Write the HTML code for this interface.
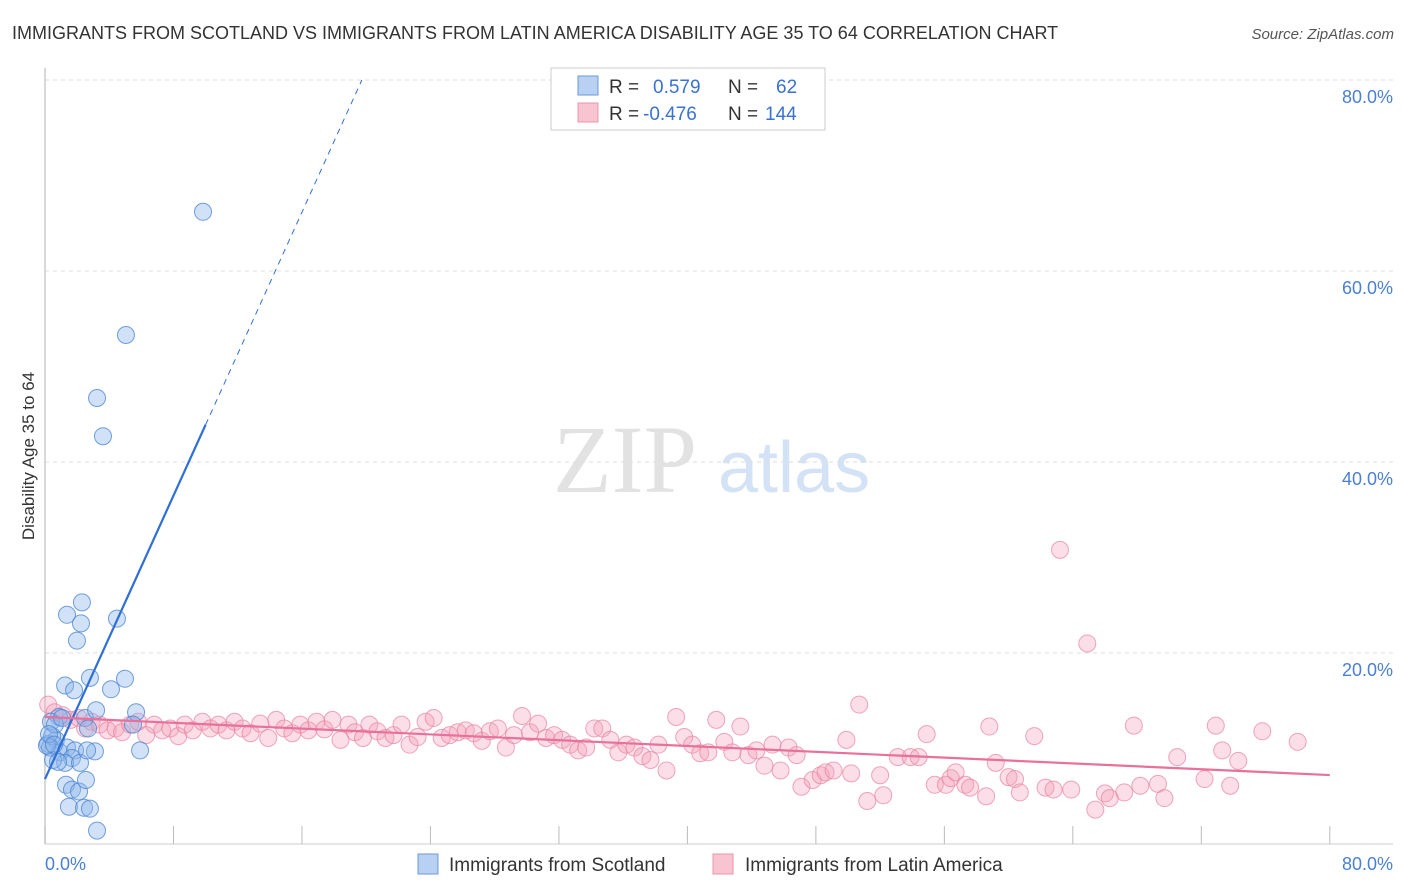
<!DOCTYPE html>
<html><head><meta charset="utf-8"><style>
body{margin:0;background:#fff;font-family:"Liberation Sans",sans-serif}
svg{display:block}
</style></head><body>
<svg id="chart" width="1406" height="892" xmlns="http://www.w3.org/2000/svg" font-family="Liberation Sans, sans-serif">
<text x="12" y="39" font-size="18" fill="#333">IMMIGRANTS FROM SCOTLAND VS IMMIGRANTS FROM LATIN AMERICA DISABILITY AGE 35 TO 64 CORRELATION CHART</text>
<text x="1394" y="39" font-size="15" fill="#555" text-anchor="end" font-style="italic">Source: ZipAtlas.com</text>
<g>
<text x="553" y="492" font-size="96" font-family="Liberation Serif, serif" fill="#e2e2e2">ZIP</text>
<text x="718" y="492" font-size="72" fill="#d3e2f4">atlas</text>
</g>
<g id="grid"></g>
<line x1="45" y1="68" x2="45" y2="844" stroke="#ccc" stroke-width="1.5"/>
<line x1="45" y1="844" x2="1393" y2="844" stroke="#ccc" stroke-width="1"/>
<g id="ticks"></g>
<text transform="translate(34,456) rotate(-90)" font-size="17" fill="#333" text-anchor="middle">Disability Age 35 to 64</text>
<text x="45" y="870" font-size="18" fill="#4a7fd4">0.0%</text>
<text x="1393" y="870" font-size="18" fill="#4a7fd4" text-anchor="end">80.0%</text>
<g id="pink"></g>
<g id="blue"></g>
<g id="lines"></g>
<g>
<rect x="551" y="68" width="274" height="62" fill="#fff" stroke="#ccc"/>
<rect x="578" y="76" width="20" height="19" fill="#b8d0f2" stroke="#6a9ad8"/>
<rect x="578" y="103" width="20" height="19" fill="#f8c4d2" stroke="#e896ae"/>
<text x="609" y="93" font-size="19" fill="#333">R =</text>
<text x="653" y="93" font-size="19" fill="#3a72d0">0.579</text>
<text x="728" y="93" font-size="19" fill="#333">N =</text>
<text x="776" y="93" font-size="19" fill="#3a72d0">62</text>
<text x="609" y="120" font-size="19" fill="#333">R =</text>
<text x="643" y="120" font-size="19" fill="#3a72d0">-0.476</text>
<text x="728" y="120" font-size="19" fill="#333">N =</text>
<text x="765" y="120" font-size="19" fill="#3a72d0">144</text>
</g>
<g>
<rect x="418" y="854" width="20" height="20" fill="#b8d0f2" stroke="#6a9ad8"/>
<text x="449" y="871" font-size="19" fill="#333">Immigrants from Scotland</text>
<rect x="713" y="854" width="20" height="20" fill="#f8c4d2" stroke="#e896ae"/>
<text x="745" y="871" font-size="19" fill="#333">Immigrants from Latin America</text>
</g>
</svg>
<script>
const yTicks=[20,40,60,80];
const xTickVals=[0,8,16,24,32,40,48,56,64,72,80];
const blueX=[9.84,5.04,3.24,3.61,1.37,2.30,2.24,1.99,4.48,1.25,1.81,2.80,4.98,4.11,0.87,2.49,3.18,5.67,0.68,0.19,0.44,0.31,0.93,1.37,1.87,1.68,1.25,2.18,3.11,2.62,5.92,1.31,1.49,1.68,2.12,2.43,2.80,3.24,2.55,0.37,0.62,1.06,5.48,2.68,0.50,0.81,0.12,0.25,0.56];
const blueY=[66.2,53.3,46.7,42.7,24.0,25.3,23.1,21.3,23.6,16.6,16.1,17.4,17.3,16.2,13.3,13.2,14.0,13.8,10.9,10.5,11.3,10.1,9.6,10.1,9.8,9.0,8.5,8.5,9.7,9.8,9.8,6.2,3.9,5.7,5.5,3.8,3.7,1.4,6.7,12.8,12.5,13.2,12.5,12.1,8.8,8.6,10.3,11.5,10.4];
const pinkX=[0.2,0.6,1.1,1.6,2.1,2.5,2.9,3.4,3.9,4.4,4.8,5.3,5.8,6.3,6.8,7.3,7.8,8.3,8.7,9.2,9.8,10.3,10.8,11.3,11.8,12.3,12.8,13.4,13.9,14.4,14.9,15.4,15.9,16.4,16.9,17.4,17.9,18.4,18.9,19.3,19.8,20.2,20.7,21.2,21.7,22.2,22.7,23.2,23.7,24.2,24.7,25.2,25.7,26.2,26.7,27.2,27.7,28.2,28.7,29.2,29.7,30.2,30.7,31.2,31.7,32.2,32.7,33.2,33.7,34.2,34.7,35.2,35.7,36.2,36.7,37.2,37.7,38.2,38.7,39.3,39.8,40.3,40.8,41.3,41.8,42.3,42.8,43.3,43.8,44.3,44.8,45.3,45.8,46.3,46.8,47.1,47.8,48.3,48.6,49.1,49.9,50.2,50.7,51.2,52.0,52.2,53.1,53.9,54.4,54.9,55.4,56.1,56.4,56.7,57.3,57.6,58.6,58.8,59.2,60.0,60.4,60.7,61.6,62.3,62.8,63.2,63.9,64.9,65.4,66.0,66.3,67.2,67.8,68.2,69.3,69.7,70.5,72.2,72.9,73.3,73.8,74.3,75.8,78.0];
const pinkY=[14.6,13.8,13.5,13.0,13.2,12.1,12.8,12.5,11.9,12.1,11.7,12.5,12.8,11.4,12.5,11.9,12.1,11.3,12.5,11.9,12.8,12.1,12.5,11.9,12.8,12.1,11.6,12.6,11.1,13.0,12.1,11.6,12.5,11.9,12.8,12.0,13.0,10.9,12.5,11.7,11.1,12.5,11.8,11.1,11.4,12.5,10.4,11.2,12.8,13.2,11.1,11.4,11.7,11.9,11.6,10.8,11.8,12.1,10.1,11.4,13.4,11.7,12.6,11.1,11.4,10.9,10.4,9.8,10.1,12.1,12.1,10.9,9.6,10.4,10.1,9.2,8.8,10.4,7.7,13.3,11.2,10.4,9.5,9.6,13.0,10.7,9.6,12.3,9.3,9.8,8.2,10.4,7.7,10.1,9.3,6.0,6.7,7.2,7.5,7.7,10.9,7.4,14.6,4.5,7.2,5.1,9.1,9.1,9.1,11.5,6.2,6.2,6.9,7.5,6.2,5.9,5.0,12.3,8.5,7.0,6.8,5.4,11.3,5.9,5.7,30.8,5.7,21.0,3.6,5.3,4.8,5.4,12.4,6.1,6.3,4.8,9.1,6.8,12.4,9.8,6.1,8.7,11.8,10.7];
const blueFit=[6.8,3.71];   // intercept, slope
const pinkFit=[13.3,-0.076];
const NS='http://www.w3.org/2000/svg';
const X=v=>45+v*16.06;
const Y=v=>844-v*9.55;
function mk(tag,attrs,parent){const e=document.createElementNS(NS,tag);for(const k in attrs)e.setAttribute(k,attrs[k]);document.getElementById(parent).appendChild(e);return e;}
yTicks.forEach(t=>{
  const g=mk('line',{x1:45,x2:1393,y1:Y(t),y2:Y(t),stroke:'#ddd','stroke-dasharray':'4,4'},'grid');
  
  
  const l=mk('text',{x:1393,y:Y(t)+23,'font-size':18,fill:'#4a7fd4','text-anchor':'end'},'grid');
  l.textContent=t.toFixed(1)+'%';
  
  
});
xTickVals.forEach(t=>{
  const e=mk('line',{x1:X(t),x2:X(t),y1:826,y2:844,stroke:'#bbb'},'ticks');
  
  
});
pinkX.forEach((x,i)=>{
  const c=mk('circle',{cx:X(x),cy:Y(pinkY[i]),r:8.5,fill:'rgba(244,160,186,0.35)',stroke:'rgba(232,130,160,0.7)','stroke-width':1},'pink');
  
  
});
blueX.forEach((x,i)=>{
  const c=mk('circle',{cx:X(x),cy:Y(blueY[i]),r:8.5,fill:'rgba(140,180,235,0.4)',stroke:'rgba(70,130,210,0.75)','stroke-width':1},'blue');
  
  
});
const bEnd=10.0, bDash=(80-blueFit[0])/blueFit[1];
let e=mk('line',{x1:X(0),y1:Y(blueFit[0]),x2:X(bEnd),y2:Y(blueFit[0]+blueFit[1]*bEnd),stroke:'#2f6fd6','stroke-width':2.2},'lines');


e=mk('line',{x1:X(bEnd),y1:Y(blueFit[0]+blueFit[1]*bEnd),x2:X(bDash),y2:Y(80),stroke:'#2f6fd6','stroke-width':1,'stroke-dasharray':'6,5'},'lines');


e=mk('line',{x1:X(0),y1:Y(pinkFit[0]),x2:X(80),y2:Y(pinkFit[0]+pinkFit[1]*80),stroke:'#e8709a','stroke-width':2.2},'lines');


</script>
</body></html>
